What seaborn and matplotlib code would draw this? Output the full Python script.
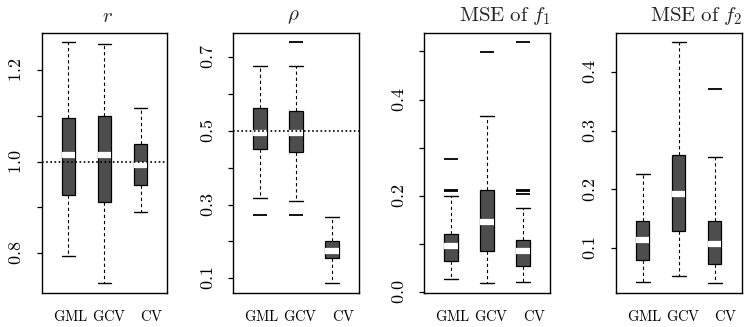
import numpy as np
import pandas as pd
import matplotlib
matplotlib.use("Agg")
import matplotlib.pyplot as plt
import matplotlib.transforms as mtransforms
import seaborn as sns

# ---------------- data ----------------
groups = ["GML", "GCV", "CV"]

r_low = [0.793, 0.734, 0.889]
r_q1 = [0.927, 0.912, 0.949]
r_med = [1.014, 1.014, 0.993]
r_q3 = [1.095, 1.100, 1.039]
r_high = [1.2615, 1.258, 1.117]
r_out = [[], [], []]

rho_low = [0.317, 0.310, 0.087]
rho_q1 = [0.450, 0.443, 0.155]
rho_med = [0.494, 0.494, 0.174]
rho_q3 = [0.561, 0.553, 0.2015]
rho_high = [0.676, 0.676, 0.265]
rho_out = [[0.271], [0.740, 0.271], []]

f1_low = [0.028, 0.019, 0.021]
f1_q1 = [0.065, 0.086, 0.055]
f1_med = [0.096, 0.145, 0.086]
f1_q3 = [0.121, 0.2125, 0.108]
f1_high = [0.200, 0.367, 0.174]
f1_out = [[0.210, 0.212, 0.276], [0.499], [0.204, 0.210, 0.212, 0.519]]

f2_low = [0.043, 0.053, 0.041]
f2_q1 = [0.080, 0.130, 0.073]
f2_med = [0.114, 0.193, 0.108]
f2_q3 = [0.147, 0.259, 0.147]
f2_high = [0.226, 0.450, 0.255]
f2_out = [[], [], [0.371]]

titles = [r"$r$", r"$\rho$", r"$\mathrm{MSE\ of}\ f_1$", r"$\mathrm{MSE\ of}\ f_2$"]
ref_lines = [1.0, 0.5, None, None]
major_ticks = [[0.8, 0.9, 1.0, 1.1, 1.2],
               [0.1, 0.2, 0.3, 0.4, 0.5, 0.6, 0.7],
               [0.0, 0.1, 0.2, 0.3, 0.4, 0.5],
               [0.1, 0.2, 0.3, 0.4]]
tick_labels = [[0.8, 1.0, 1.2],
               [0.1, 0.3, 0.5, 0.7],
               [0.0, 0.2, 0.4],
               [0.1, 0.2, 0.3, 0.4]]

panels = [
    (r_low, r_q1, r_med, r_q3, r_high, r_out),
    (rho_low, rho_q1, rho_med, rho_q3, rho_high, rho_out),
    (f1_low, f1_q1, f1_med, f1_q3, f1_high, f1_out),
    (f2_low, f2_q1, f2_med, f2_q3, f2_high, f2_out),
]


def panel_frame(low, q1, med, q3, high, out, m=10):
    """Observations reproducing the read five-number summaries + outliers."""
    rows = []
    for g, lo, a, md, b, hi, o in zip(groups, low, q1, med, q3, high, out):
        up = sum(1 for v in o if v > md)
        dn = len(o) - up
        vals = ([lo] * (m + max(up - dn, 0)) + [a] * m + [md] * m + [b] * m
                + [hi] * (m + max(dn - up, 0)) + list(o))
        rows += [(g, v) for v in vals]
    return pd.DataFrame(rows, columns=["method", "value"])


# ---------------- styling ----------------
sns.set_theme(style="ticks")
plt.rcParams["font.family"] = ["DejaVu Serif"]
plt.rcParams["mathtext.fontset"] = "cm"

W, H = 744, 327
fig = plt.figure(figsize=(W / 100, H / 100), dpi=100)

lefts = [41.7, 233.3, 424.3, 616.0]
ax_w = 125.5
top, bottom = 32.7, 292.7
title_x = [(107, "center"), (293, "center"), (459, "left"), (650, "left")]
label_dx = [2, 4.5, 11]

for i, (stats, left) in enumerate(zip(panels, lefts)):
    ax = fig.add_axes([left / W, 1 - bottom / H, ax_w / W, (bottom - top) / H])
    df = panel_frame(*stats)
    sns.boxplot(
        data=df, x="method", y="value", order=groups, ax=ax,
        color="#4d4d4d", saturation=1, linecolor="black", linewidth=0.9,
        width=0.37, whis=1.5,
        medianprops={"color": "white", "linewidth": 4.5, "solid_capstyle": "butt"},
        whiskerprops={"linestyle": (0, (3, 2.5)), "linewidth": 0.8, "color": "black"},
        capprops={"linewidth": 1.0, "color": "black"},
        flierprops={"marker": "_", "markersize": 10, "markeredgecolor": "black",
                    "markeredgewidth": 1.3},
        capwidths=0.38,
    )
    # R-like 4% extension of the data range
    lo_all = min(min(stats[0]), min([v for o in stats[5] for v in o] or [np.inf]))
    hi_all = max(max(stats[4]), max([v for o in stats[5] for v in o] or [-np.inf]))
    ext = 0.04 * (hi_all - lo_all)
    ax.set_ylim(lo_all - ext, hi_all + ext)
    ax.set_xlim(-0.74, 2.74)

    if ref_lines[i] is not None:
        ax.axhline(ref_lines[i], color="black", linestyle=(0, (1, 1.5)), linewidth=1.2,
                   zorder=5)

    ax.set_xlabel("")
    ax.set_ylabel("")
    for s in ax.spines.values():
        s.set_visible(True)
        s.set_color("black")
        s.set_linewidth(1.0)

    ax.set_yticks(major_ticks[i],
                  labels=[("$%.1f$" % v) if any(abs(v - t) < 1e-9 for t in tick_labels[i]) else ""
                          for v in major_ticks[i]])
    ax.tick_params(axis="y", length=3.5, width=0.9, pad=8.5, labelsize=13,
                   labelrotation=90, colors="black")
    for lbl in ax.get_yticklabels():
        lbl.set_va("center")

    ax.set_xticks(range(len(groups)), labels=[r"$\mathrm{%s}$" % g for g in groups])
    ax.tick_params(axis="x", length=0, pad=12, labelsize=10.5, colors="black")
    for lbl, dx in zip(ax.get_xticklabels(), label_dx):
        lbl.set_transform(lbl.get_transform()
                          + mtransforms.ScaledTranslation(dx / 100, 0, fig.dpi_scale_trans))

    tx, ha = title_x[i]
    fig.text(tx / W, 1 - 16 / H, titles[i], ha=ha, va="center", fontsize=15)

fig.savefig("out.png", dpi=100)
